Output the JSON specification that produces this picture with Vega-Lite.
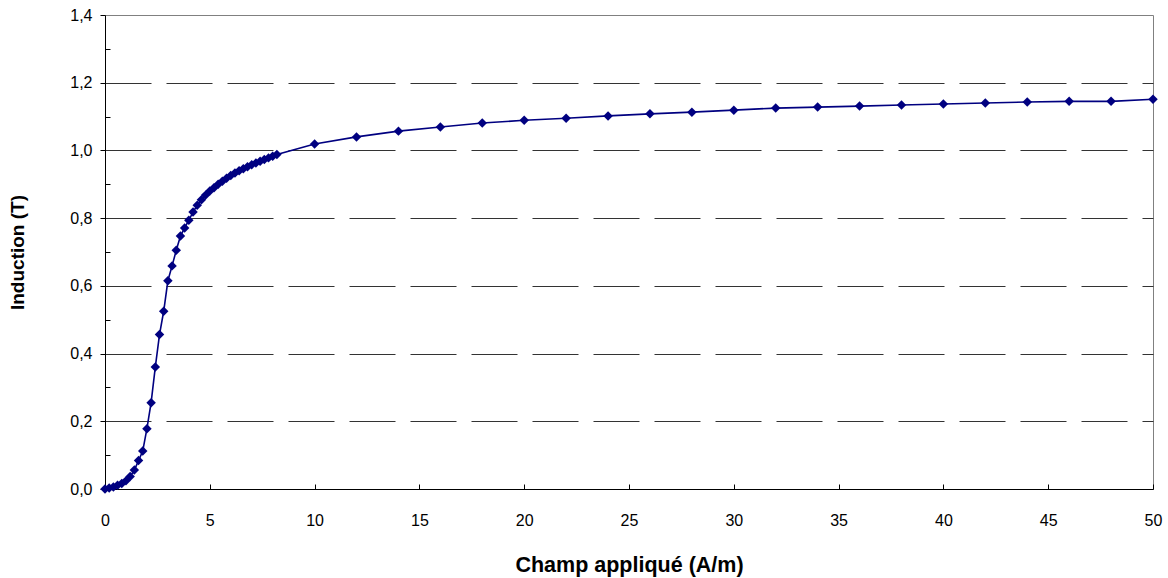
{
  "$schema": "https://vega.github.io/schema/vega-lite/v6.json",
  "width": 1048,
  "height": 474,
  "autosize": {"type": "none"},
  "padding": {"left": 105, "top": 15, "right": 15, "bottom": 89},
  "background": "white",
  "config": {
    "view": {"stroke": "#808080", "strokeWidth": 1},
    "font": "Liberation Sans"
  },
  "data": {
    "values": [
      {"H": 0, "B": 0},
      {"H": 0.2, "B": 0.003},
      {"H": 0.4, "B": 0.006},
      {"H": 0.6, "B": 0.011},
      {"H": 0.8, "B": 0.016},
      {"H": 1.0, "B": 0.024},
      {"H": 1.2, "B": 0.037},
      {"H": 1.4, "B": 0.056},
      {"H": 1.6, "B": 0.084},
      {"H": 1.8, "B": 0.112},
      {"H": 2.0, "B": 0.178},
      {"H": 2.2, "B": 0.255},
      {"H": 2.4, "B": 0.36},
      {"H": 2.6, "B": 0.456},
      {"H": 2.8, "B": 0.525},
      {"H": 3.0, "B": 0.615},
      {"H": 3.2, "B": 0.659},
      {"H": 3.4, "B": 0.705},
      {"H": 3.6, "B": 0.747},
      {"H": 3.8, "B": 0.771},
      {"H": 4.0, "B": 0.794},
      {"H": 4.2, "B": 0.818},
      {"H": 4.4, "B": 0.838},
      {"H": 4.6, "B": 0.854},
      {"H": 4.8, "B": 0.868},
      {"H": 5.0, "B": 0.88},
      {"H": 5.2, "B": 0.89},
      {"H": 5.4, "B": 0.9},
      {"H": 5.6, "B": 0.909},
      {"H": 5.8, "B": 0.918},
      {"H": 6.0, "B": 0.926},
      {"H": 6.2, "B": 0.933},
      {"H": 6.4, "B": 0.94},
      {"H": 6.6, "B": 0.946},
      {"H": 6.8, "B": 0.952},
      {"H": 7.0, "B": 0.958},
      {"H": 7.2, "B": 0.963},
      {"H": 7.4, "B": 0.968},
      {"H": 7.6, "B": 0.973},
      {"H": 7.8, "B": 0.978},
      {"H": 8.0, "B": 0.983},
      {"H": 8.2, "B": 0.988},
      {"H": 10, "B": 1.019},
      {"H": 12, "B": 1.04},
      {"H": 14, "B": 1.057},
      {"H": 16, "B": 1.069},
      {"H": 18, "B": 1.081},
      {"H": 20, "B": 1.089},
      {"H": 22, "B": 1.095},
      {"H": 24, "B": 1.102},
      {"H": 26, "B": 1.108},
      {"H": 28, "B": 1.113},
      {"H": 30, "B": 1.119},
      {"H": 32, "B": 1.125},
      {"H": 34, "B": 1.128},
      {"H": 36, "B": 1.131},
      {"H": 38, "B": 1.134},
      {"H": 40, "B": 1.137},
      {"H": 42, "B": 1.14},
      {"H": 44, "B": 1.143},
      {"H": 46, "B": 1.145},
      {"H": 48, "B": 1.145},
      {"H": 50, "B": 1.151}
    ]
  },
  "mark": {
    "type": "line",
    "color": "#000080",
    "strokeWidth": 1.6,
    "point": {"shape": "diamond", "size": 90, "filled": true, "color": "#000080", "opacity": 1}
  },
  "encoding": {
    "x": {
      "field": "H",
      "type": "quantitative",
      "scale": {"domain": [0, 50], "nice": false},
      "axis": {
        "values": [0, 5, 10, 15, 20, 25, 30, 35, 40, 45, 50],
        "title": "Champ appliqué (A/m)",
        "titleFontSize": 21.5,
        "titleFontWeight": "bold",
        "titleColor": "black",
        "titlePadding": 26,
        "labelFontSize": 16,
        "labelColor": "black",
        "labelPadding": 28,
        "labelFlush": false,
        "tickSize": -5,
        "tickColor": "black",
        "domainColor": "black",
        "grid": false
      }
    },
    "y": {
      "field": "B",
      "type": "quantitative",
      "scale": {"domain": [0, 1.4], "nice": false},
      "axis": {
        "values": [0, 0.1, 0.2, 0.3, 0.4, 0.5, 0.6, 0.7, 0.8, 0.9, 1.0, 1.1, 1.2, 1.3, 1.4],
        "labelExpr": "round(datum.value*10)%2==0 ? replace(format(datum.value,'.1f'),'.',',') : ''",
        "title": "Induction (T)",
        "titleFontSize": 19,
        "titleFontWeight": "bold",
        "titleColor": "black",
        "titlePadding": 42,
        "labelFontSize": 16,
        "labelColor": "black",
        "labelPadding": 8,
        "labelFlush": false,
        "tickSize": {"condition": {"test": "round(datum.value*10)%2==1", "value": -5}, "value": 5},
        "tickColor": "black",
        "domainColor": "black",
        "grid": true,
        "gridColor": "#333333",
        "gridDash": [46, 15],
        "gridOpacity": {"condition": {"test": "round(datum.value*10)%2==0 && datum.value>0.05 && datum.value<1.35", "value": 1}, "value": 0}
      }
    }
  }
}
